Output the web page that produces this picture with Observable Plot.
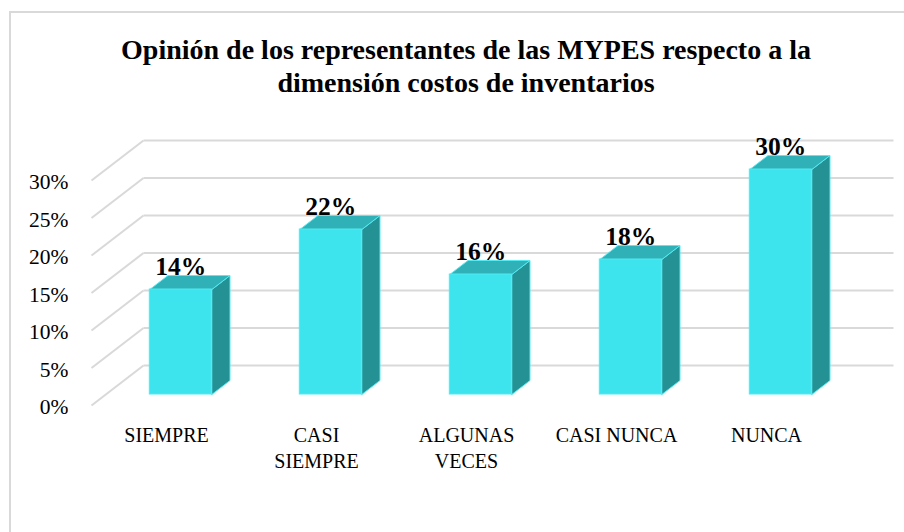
<!DOCTYPE html>
<html><head><meta charset="utf-8">
<script src="https://cdn.jsdelivr.net/npm/d3@7"></script>
<script src="https://cdn.jsdelivr.net/npm/@observablehq/plot@0.6"></script>
<style>
body{margin:0;background:#fff;width:904px;height:532px;overflow:hidden;position:relative;font-family:"Liberation Serif","Times New Roman",serif}
#frame{position:absolute;left:9px;top:11px;width:1000px;height:600px;border-left:2px solid #d9d9d9;border-top:2px solid #d9d9d9}
#title{position:absolute;left:10px;width:912px;top:33px;text-align:center;font-weight:bold;font-size:28px;line-height:33px;color:#000}
#chart{position:absolute;left:0;top:100px}
</style></head><body>
<div id="frame"></div>
<div id="title">Opinión de los representantes de las MYPES respecto a la<br>dimensión costos de inventarios</div>
<div id="chart"></div>
<script>
const categories = ["SIEMPRE", "CASI\nSIEMPRE", "ALGUNAS\nVECES", "CASI NUNCA", "NUNCA"];
const values = [14, 22, 16, 18, 30];
const valueLabels = ["14%", "22%", "16%", "18%", "30%"];
const yTicks = [0, 5, 10, 15, 20, 25, 30];
const yTickLabels = ["0%", "5%", "10%", "15%", "20%", "25%", "30%"];

// layout
const W = 904, H = 432, ML = 91, MR = 63, MT = 80, MB = 127;
const pxX = (W - ML - MR) / categories.length;   // px per x unit
const pxY = (H - MT - MB) / 30;                  // px per %
const DX = 52 / pxX, DY = 40 / pxY;              // oblique depth in data units
const dF = 0.275, dB = 0.625;                    // bar depth range
const HW = 31 / pxX;                             // half bar width

const gridLines = [];
yTicks.forEach(t => {
  gridLines.push({x1: 0, y1: t, x2: DX, y2: t + DY});
  gridLines.push({x1: DX, y1: t + DY, x2: categories.length + DX, y2: t + DY});
});

const frontFaces = [], topFaces = [], sideFaces = [];
values.forEach((v, i) => {
  const x0 = i + 0.5 - HW, x1 = i + 0.5 + HW;
  frontFaces.push({x1: x0 + dF * DX, x2: x1 + dF * DX, y1: dF * DY, y2: v + dF * DY});
  [[x0 + dF*DX, v + dF*DY], [x1 + dF*DX, v + dF*DY], [x1 + dB*DX, v + dB*DY], [x0 + dB*DX, v + dB*DY], [x0 + dF*DX, v + dF*DY]]
    .forEach(([x, y]) => topFaces.push({id: i, x, y}));
  [[x1 + dF*DX, dF*DY], [x1 + dB*DX, dB*DY], [x1 + dB*DX, v + dB*DY], [x1 + dF*DX, v + dF*DY], [x1 + dF*DX, dF*DY]]
    .forEach(([x, y]) => sideFaces.push({id: i, x, y}));
});

const edge = "#55e9f1";
const chart = Plot.plot({
  width: W, height: H,
  marginLeft: ML, marginRight: MR, marginTop: MT, marginBottom: MB,
  x: {domain: [0, categories.length], axis: null},
  y: {domain: [0, 30], axis: null},
  style: {fontFamily: "'Liberation Serif','Times New Roman',serif", background: "transparent", overflow: "visible"},
  marks: [
    Plot.link(gridLines, {x1: "x1", y1: "y1", x2: "x2", y2: "y2", stroke: "#d9d9d9", strokeWidth: 2}),
    Plot.text(yTicks, {x: 0, y: d => d, text: (d, i) => yTickLabels[i], textAnchor: "end", dx: -23, dy: 2, fontSize: 21.5, fill: "#000"}),
    Plot.line(sideFaces, {x: "x", y: "y", z: "id", fill: "#249295", stroke: edge, strokeWidth: 1}),
    Plot.line(topFaces, {x: "x", y: "y", z: "id", fill: "#2fb1b7", stroke: edge, strokeWidth: 1}),
    Plot.rect(frontFaces, {x1: "x1", x2: "x2", y1: "y1", y2: "y2", fill: "#3de4ee", stroke: edge, strokeWidth: 1}),
    Plot.text(values, {x: (d, i) => i + 0.5 + dF * DX, y: d => d + dB * DY, text: (d, i) => valueLabels[i], lineAnchor: "bottom", dy: -1, fontSize: 25.5, fontWeight: "bold", fill: "#000"}),
    Plot.text(categories, {x: (d, i) => i + 0.5, y: 0, text: d => d, lineAnchor: "top", dy: 18, fontSize: 20, lineHeight: 1.3, fill: "#000"})
  ]
});
document.getElementById("chart").appendChild(chart);
</script>
</body></html>
